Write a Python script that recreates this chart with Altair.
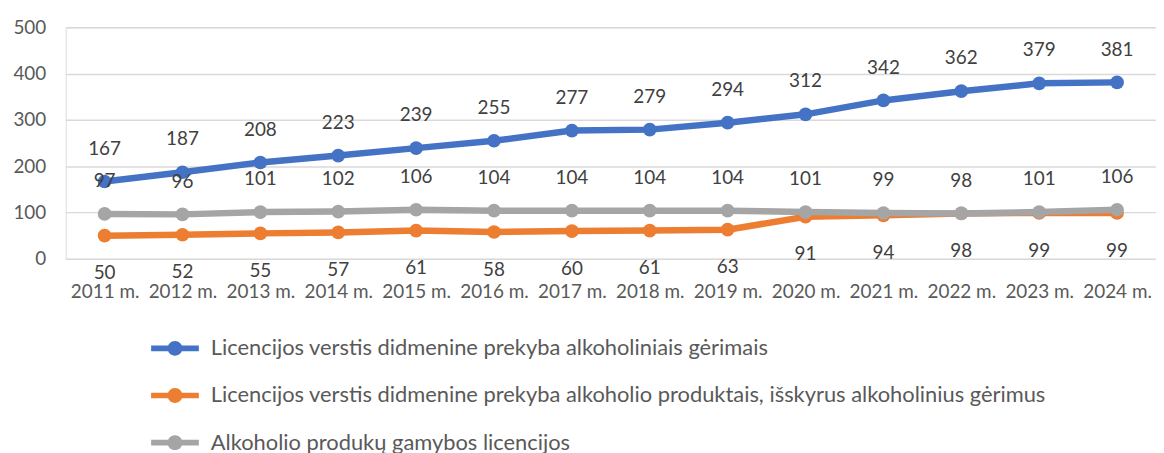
import altair as alt
import pandas as pd

years = ["2011 m.", "2012 m.", "2013 m.", "2014 m.", "2015 m.", "2016 m.", "2017 m.",
         "2018 m.", "2019 m.", "2020 m.", "2021 m.", "2022 m.", "2023 m.", "2024 m."]
series_names = [
    "Licencijos  verstis didmenine prekyba alkoholiniais gėrimais",
    "Licencijos verstis didmenine prekyba alkoholio produktais, išskyrus alkoholinius gėrimus",
    "Alkoholio produkų gamybos licencijos",
]
wholesale_drinks = [167, 187, 208, 223, 239, 255, 277, 279, 294, 312, 342, 362, 379, 381]
wholesale_products = [50, 52, 55, 57, 61, 58, 60, 61, 63, 91, 94, 98, 99, 99]
production = [97, 96, 101, 102, 106, 104, 104, 104, 104, 101, 99, 98, 101, 106]
colors = ["#4472C4", "#ED7D31", "#A5A5A5"]

rows = []
for name, vals in zip(series_names, [wholesale_drinks, wholesale_products, production]):
    for y, v in zip(years, vals):
        rows.append({"year": y, "value": v, "series": name})
df = pd.DataFrame(rows)

FONT = "Lato"
symbol_path = ("M-1,-0.12H1V0.12H-1Z "
               "M-0.31,0A0.31,0.31 0 1,1 0.31,0A0.31,0.31 0 1,1 -0.31,0Z")

x = alt.X("year:N", sort=years, title=None,
          scale=alt.Scale(type="point", padding=0.5),
          axis=alt.Axis(labelAngle=0, labelFontSize=19, labelColor="#595959",
                        labelFont=FONT, labelPadding=24, ticks=False, domain=False,
                        grid=False, labelOverlap=False))
y = alt.Y("value:Q", title=None,
          scale=alt.Scale(domain=[0, 500], nice=False),
          axis=alt.Axis(values=[0, 100, 200, 300, 400, 500], labelFontSize=19,
                        labelColor="#595959", labelFont=FONT, labelPadding=20,
                        ticks=False, domain=False, gridColor="#D9D9D9",
                        gridWidth=1.5))
color = alt.Color("series:N", sort=series_names,
                  scale=alt.Scale(domain=series_names, range=colors),
                  legend=alt.Legend(title=None, orient="none", legendX=86, legendY=299,
                                    direction="vertical", symbolType=symbol_path,
                                    symbolSize=2304, symbolStrokeWidth=0,
                                    symbolOpacity=1,
                                    labelFontSize=22, labelFont=FONT,
                                    labelColor="#595959", labelOffset=12,
                                    rowPadding=12.5, labelLimit=1200))

def labels(name, dy):
    return alt.Chart(df).transform_filter(alt.datum.series == name).mark_text(
        dy=dy, fontSize=19, font=FONT, color="#404040"
    ).encode(x=x, y=y, text="value:Q")

layers = []
for i, name in enumerate(series_names):
    sub = alt.Chart(df).transform_filter(alt.datum.series == name)
    layers.append(sub.mark_line(strokeWidth=6.5, color=colors[i]).encode(x=x, y=y))
    layers.append(sub.mark_circle(size=190, opacity=1).encode(x=x, y=y, color=color))

chart = alt.layer(
    *layers,
    labels(series_names[0], -33),
    labels(series_names[2], -33),
    labels(series_names[1], 38),
).properties(
    width=1097, height=233,
    autosize=alt.AutoSizeParams(type="none"),
    padding={"left": 58, "top": 18, "right": 0, "bottom": 200},
).configure_view(stroke=None).configure(background="white")

chart.save("out.html", embed_options={"renderer": "svg", "actions": False})
